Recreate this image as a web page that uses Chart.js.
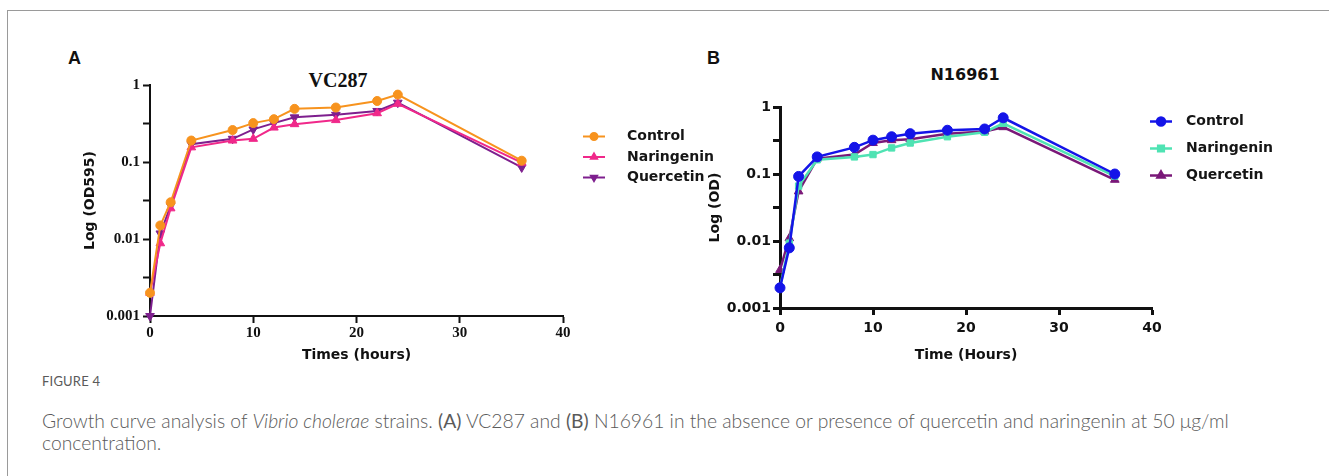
<!DOCTYPE html>
<html>
<head>
<meta charset="utf-8">
<script src="https://cdn.jsdelivr.net/npm/chart.js@4.4.0/dist/chart.umd.min.js"></script>
<style>
  html, body { margin:0; padding:0; background:#fff; }
  #page { position:relative; width:1329px; height:476px; overflow:hidden; }
  #frame { position:absolute; left:7px; top:10px; width:1330px; height:480px;
           border-top:1px solid #9a9a9a; border-left:1px solid #9a9a9a; }
  .panel { position:absolute; font-family:"Liberation Sans", Arial, sans-serif; font-weight:bold; font-size:18px; color:#111; line-height:18px; }
  .title { position:absolute; text-align:center; color:#111; white-space:nowrap; }
  #titleA { left:238px; width:200px; top:70px; font:bold 20px/20px "Liberation Serif", "Times New Roman", serif; }
  #titleB { left:865px; width:200px; top:67px; font:bold 16px/16px "DejaVu Sans", sans-serif; }
  canvas { position:absolute; }
  #caption { position:absolute; left:42px; top:373px; width:1245px; font-family:Lato, "Open Sans", sans-serif; color:#5a5a5a; }
  #caption .fig { font-size:13px; letter-spacing:0.2px; line-height:16px; }
  #caption .txt { font-size:19.3px; line-height:22px; margin-top:21px; font-weight:300; }
</style>
</head>
<body>
<div id="page">
  <div id="frame"></div>
  <div class="panel" style="left:68px; top:49px;">A</div>
  <div class="panel" style="left:707px; top:49px;">B</div>
  <div class="title" id="titleA">VC287</div>
  <div class="title" id="titleB">N16961</div>
  <canvas id="chartA" width="700" height="350" style="left:40px; top:20px; width:700px; height:350px;"></canvas>
  <canvas id="chartB" width="620" height="350" style="left:690px; top:20px; width:620px; height:350px;"></canvas>
  <div id="caption">
    <div class="fig">FIGURE 4</div>
    <div class="txt">Growth curve analysis of <i>Vibrio cholerae</i> strains. <b>(A)</b> VC287 and <b>(B)</b> N16961 in the absence or presence of quercetin and naringenin at 50 μg/ml concentration.</div>
  </div>
</div>
<script>
// sampling times (hours), shared by both strains
const times = [0, 1, 2, 4, 8, 10, 12, 14, 18, 22, 24, 36];

// VC287 (panel A), OD595
const vcControl    = [0.002, 0.015, 0.030, 0.19, 0.26, 0.32, 0.36, 0.49, 0.51, 0.62, 0.75, 0.104];
const vcNaringenin = [0.002, 0.0088, 0.025, 0.155, 0.19, 0.20, 0.28, 0.31, 0.35, 0.43, 0.57, 0.098];
const vcQuercetin  = [0.001, 0.0118, 0.027, 0.17, 0.20, 0.265, 0.32, 0.38, 0.41, 0.46, 0.59, 0.085];

// N16961 (panel B), OD
const nControl    = [0.002, 0.0079, 0.092, 0.18, 0.25, 0.32, 0.36, 0.40, 0.45, 0.47, 0.69, 0.10];
const nNaringenin = [0.002, 0.0093, 0.066, 0.163, 0.18, 0.195, 0.245, 0.29, 0.36, 0.42, 0.57, 0.093];
const nQuercetin  = [0.0037, 0.011, 0.055, 0.17, 0.195, 0.29, 0.32, 0.33, 0.40, 0.43, 0.50, 0.082];

const seriesNames = ['Control', 'Naringenin', 'Quercetin'];

// y ticks: decades labelled, half-decades as bare tick marks
const yTickValues = [0.001, 0.00316, 0.01, 0.0316, 0.1, 0.316, 1];
const yTickLabels = ['0.001', '', '0.01', '', '0.1', '', '1'];

function pts(vals){ return times.map((t, i) => ({ x: t, y: vals[i] })); }

// legend drawn as "line + marker + label", like the original figure
const lineLegend = {
  id: 'lineLegend',
  afterDraw(chart, args, o){
    const ctx = chart.ctx;
    ctx.save();
    chart.data.datasets.forEach((ds, i) => {
      const y = o.y + i * o.gap;
      ctx.strokeStyle = ds.borderColor;
      ctx.lineWidth = o.lineWidth;
      ctx.beginPath();
      ctx.moveTo(o.x, y);
      ctx.lineTo(o.x + o.len, y);
      ctx.stroke();
      ctx.fillStyle = ds.pointBackgroundColor;
      ctx.strokeStyle = ds.borderColor;
      Chart.helpers.drawPoint(ctx, {
        pointStyle: ds.pointStyle, radius: o.radius,
        rotation: ds.pointRotation || 0, borderWidth: 1
      }, o.x + o.len / 2, y);
      ctx.fillStyle = '#151515';
      ctx.font = o.font;
      ctx.textAlign = 'left';
      ctx.textBaseline = 'middle';
      ctx.fillText(ds.label, o.textX, y);
    });
    ctx.restore();
  }
};

function makeDataset(label, vals, color, style, radius, rot, lw){
  return {
    label, data: pts(vals),
    borderColor: color, backgroundColor: color,
    pointBackgroundColor: color, pointBorderColor: color,
    pointStyle: style, pointRadius: radius, pointRotation: rot,
    pointBorderWidth: 1, borderWidth: lw, tension: 0, clip: false
  };
}

function makeChart(id, cfg){
  const tickFont = cfg.tickFont;
  return new Chart(document.getElementById(id), {
    type: 'line',
    data: { datasets: cfg.datasets },
    options: {
      responsive: false,
      animation: false,
      layout: { padding: cfg.padding },
      plugins: {
        legend: { display: false },
        tooltip: { enabled: false },
        lineLegend: cfg.legend
      },
      scales: {
        x: {
          type: 'linear', min: 0, max: 40,
          ticks: { stepSize: 10, color: '#111', font: tickFont, padding: cfg.xTickPad },
          grid: { drawOnChartArea: false, drawTicks: true, tickLength: cfg.tickLen, tickWidth: cfg.axisW, tickColor: '#111' },
          border: { display: true, color: '#111', width: cfg.axisW },
          title: { display: true, text: cfg.xTitle, color: '#111', font: cfg.titleFont, padding: { top: 0, bottom: cfg.xTitlePad } },
          afterFit: s => { s.height = cfg.xH; }
        },
        y: {
          type: 'logarithmic', min: 0.001, max: 1,
          afterBuildTicks: s => { s.ticks = yTickValues.map(v => ({ value: v })); },
          ticks: {
            autoSkip: false, color: '#111', font: tickFont, padding: cfg.yTickPad,
            callback: v => yTickLabels[yTickValues.indexOf(v)] ?? ''
          },
          grid: { drawOnChartArea: false, drawTicks: true, tickLength: cfg.tickLen, tickWidth: cfg.axisW, tickColor: '#111' },
          border: { display: true, color: '#111', width: cfg.axisW },
          title: { display: true, text: cfg.yTitle, color: '#111', font: cfg.titleFont, padding: { top: cfg.yTitlePad, bottom: 0 } },
          afterFit: s => { s.width = cfg.yW; }
        }
      }
    },
    plugins: [lineLegend]
  });
}

const serifTicks = { family: '"Liberation Serif", "Times New Roman", serif', size: 15, weight: 'bold' };
const sansTicks  = { family: '"DejaVu Sans", sans-serif', size: 14, weight: 'bold' };
const sansTitle  = { family: '"DejaVu Sans", sans-serif', size: 14, weight: 'bold' };

makeChart('chartA', {
  datasets: [
    makeDataset(seriesNames[0], vcControl,    '#F7931E', 'circle',   4.5, 0,   2),
    makeDataset(seriesNames[1], vcNaringenin, '#F0288A', 'triangle', 5,   0,   2),
    makeDataset(seriesNames[2], vcQuercetin,  '#7E1F8E', 'triangle', 5,   180, 2)
  ],
  padding: { left: 0, right: 177, top: 65, bottom: 4 },
  yW: 110, xH: 50, tickLen: 7, axisW: 2,
  tickFont: serifTicks, titleFont: sansTitle,
  xTickPad: 1, yTickPad: 3,
  xTitle: 'Times (hours)', yTitle: 'Log (OD595)',
  xTitlePad: 2, yTitlePad: 42,
  legend: { x: 543, len: 22, textX: 587, y: 116.5, gap: 20.5, radius: 3.5, lineWidth: 2, font: 'bold 14px "DejaVu Sans", sans-serif' }
});

makeChart('chartB', {
  datasets: [
    makeDataset(seriesNames[0], nControl,    '#1414E8', 'circle',   5,   0, 2.5),
    makeDataset(seriesNames[1], nNaringenin, '#4FE3B3', 'rect',     4.5, 0, 2.5),
    makeDataset(seriesNames[2], nQuercetin,  '#7A1878', 'triangle', 5,   0, 2.5)
  ],
  padding: { left: 0, right: 158, top: 87, bottom: 2 },
  yW: 90, xH: 60, tickLen: 7, axisW: 3,
  tickFont: sansTicks, titleFont: sansTitle,
  xTickPad: 5, yTickPad: 2,
  xTitle: 'Time (Hours)', yTitle: 'Log (OD)',
  xTitlePad: 4, yTitlePad: 17,
  legend: { x: 460, len: 22, textX: 496, y: 101.5, gap: 27, radius: 4, lineWidth: 2.5, font: 'bold 14px "DejaVu Sans", sans-serif' }
});
</script>
</body>
</html>
